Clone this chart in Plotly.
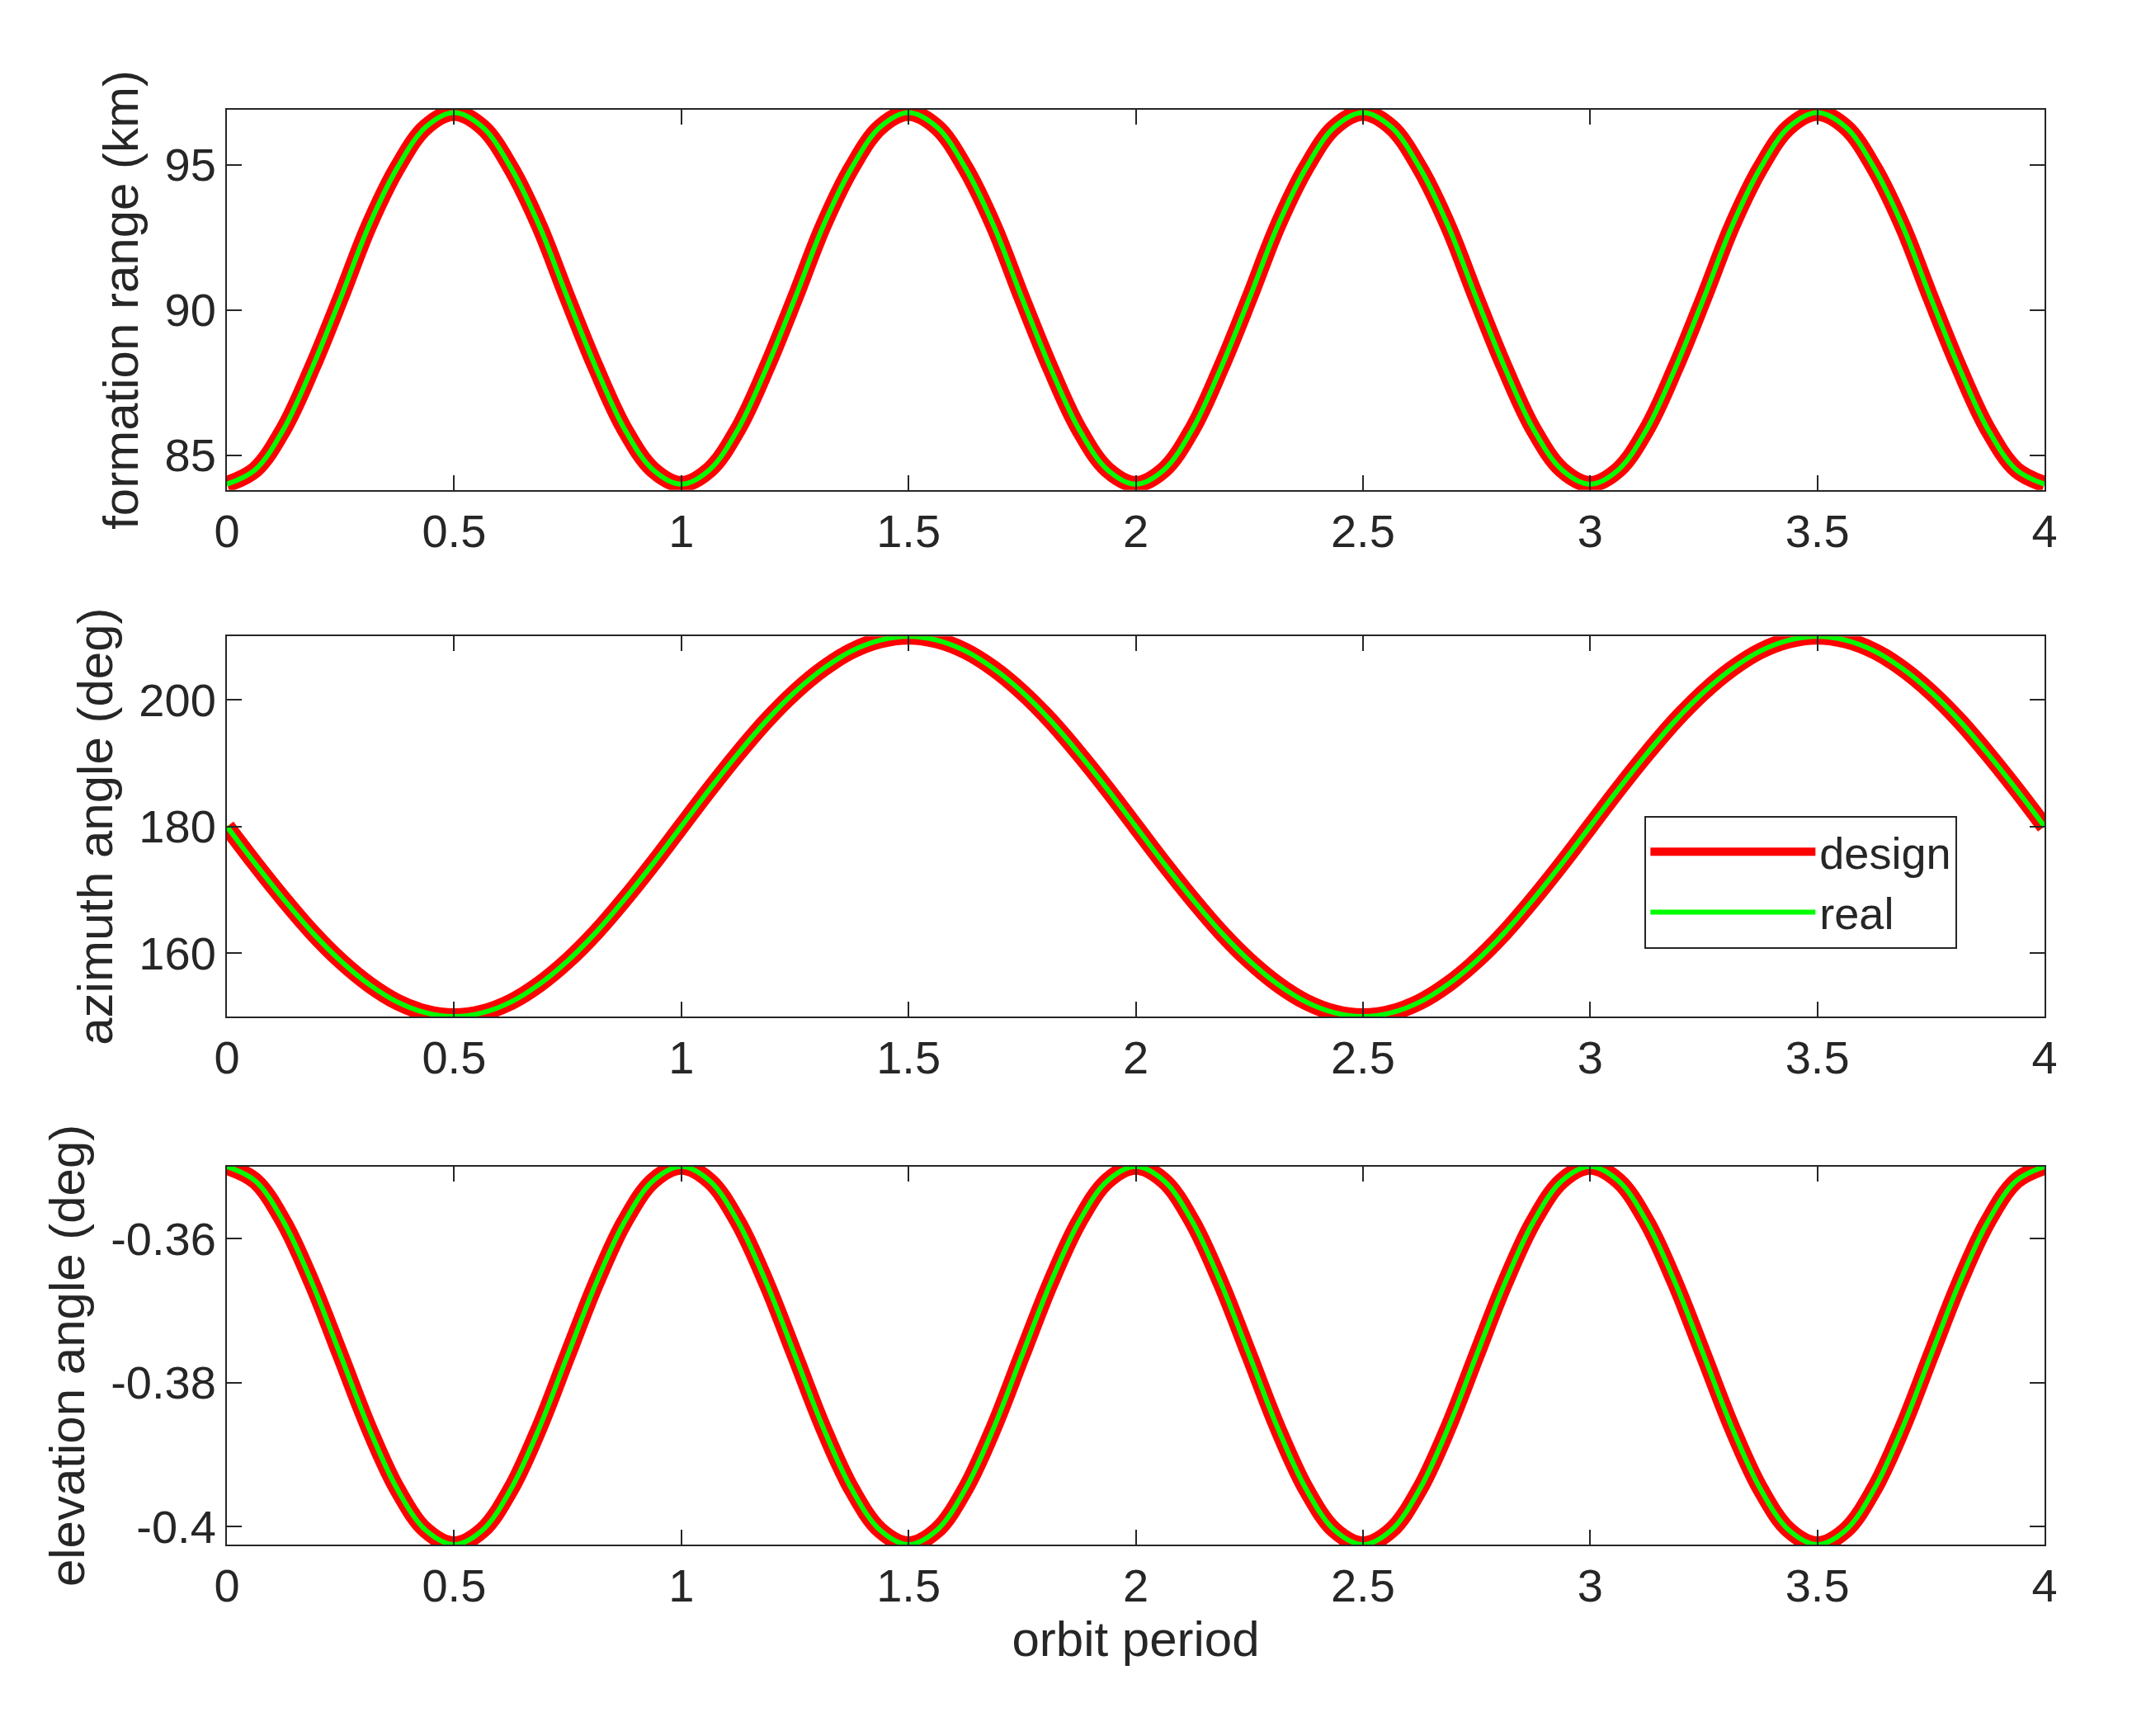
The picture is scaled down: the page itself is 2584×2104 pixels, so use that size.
import plotly.graph_objects as go
from plotly.subplots import make_subplots

t = [i*0.0625 for i in range(65)]
rng_cycle = [84.0, 84.5, 85.9, 88.0, 90.4, 92.9, 94.9, 96.3,
             96.8, 96.3, 94.9, 92.9, 90.4, 88.0, 85.9, 84.5]
range_design = rng_cycle*4 + [84.0]
az_half = [180, 174.1, 168.5, 163.3, 158.8, 155.1, 152.3, 150.6,
           150, 150.6, 152.3, 155.1, 158.8, 163.3, 168.5, 174.1,
           180, 185.9, 191.5, 196.7, 201.2, 204.9, 207.7, 209.4,
           210, 209.4, 207.7, 204.9, 201.2, 196.7, 191.5, 185.9]
az_design = az_half*2 + [180]
el_cycle = [-0.3500, -0.3520, -0.3577, -0.3662, -0.3762, -0.3863, -0.3948, -0.4005,
            -0.4025, -0.4005, -0.3948, -0.3863, -0.3762, -0.3662, -0.3577, -0.3520]
el_design = el_cycle*4 + [-0.3500]

fig = make_subplots(rows=3, cols=1)
font = dict(family="Liberation Sans, Arial", size=56, color="#262626")
tfont = dict(family="Liberation Sans, Arial", size=60, color="#262626")
lfont = dict(family="Liberation Sans, Arial", size=54, color="#262626")
for r, y in enumerate([range_design, az_design, el_design], start=1):
    fig.add_trace(go.Scatter(x=t, y=y, mode="lines", line=dict(color="red", width=20, shape="spline"),
                             name="design", showlegend=(r == 2)), row=r, col=1)
    fig.add_trace(go.Scatter(x=t, y=y, mode="lines", line=dict(color="#00ff00", width=6, shape="spline"),
                             name="real", showlegend=(r == 2)), row=r, col=1)

doms = [[0.735, 1.0], [0.368, 0.633], [0.0, 0.2635]]
yr = [[83.8, 96.9], [150, 210], [-0.4025, -0.35]]
ytv = [[85, 90, 95], [160, 180, 200], [-0.36, -0.38, -0.4]]
ytt = [["85", "90", "95"], ["160", "180", "200"], ["-0.36", "-0.38", "-0.4"]]
titles = ["formation range (km)", "azimuth angle (deg)", "elevation angle (deg)"]
for i in range(3):
    ax = dict(showline=True, linecolor="#262626", linewidth=2, mirror="ticks", ticks="inside",
              ticklen=18, tickwidth=2, tickcolor="#262626", showgrid=False, zeroline=False,
              tickfont=font)
    fig.update_xaxes(**ax, range=[0, 4], tickvals=[0, 0.5, 1, 1.5, 2, 2.5, 3, 3.5, 4],
                     ticktext=["0", "0.5", "1", "1.5", "2", "2.5", "3", "3.5", "4"], row=i+1, col=1)
    fig.update_yaxes(**ax, range=yr[i], tickvals=ytv[i], ticktext=ytt[i], domain=doms[i],
                     title=dict(text=titles[i], font=tfont, standoff=12), row=i+1, col=1)
fig.update_xaxes(title=dict(text="orbit period", font=tfont, standoff=8), row=3, col=1)

fig.update_layout(width=2584, height=2104, plot_bgcolor="white", paper_bgcolor="white",
                  margin=dict(l=267, r=114, t=125, b=240),
                  legend=dict(x=0.78, y=0.508, xanchor="left", yanchor="top", bordercolor="#262626",
                              borderwidth=2, bgcolor="white", font=lfont, itemwidth=200,
                              tracegroupgap=0, xref="paper", yref="paper"))
fig.write_html("out.html")
